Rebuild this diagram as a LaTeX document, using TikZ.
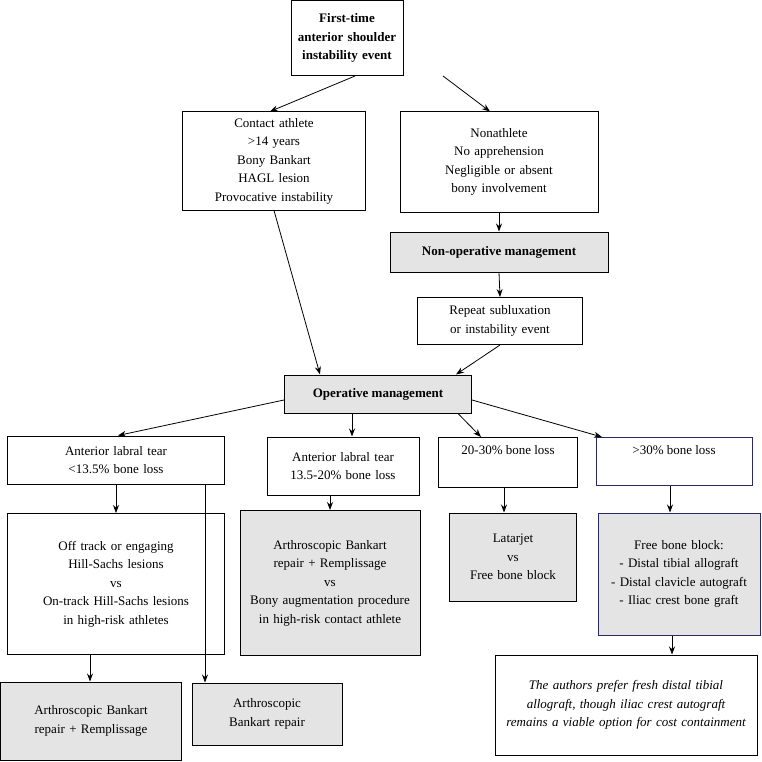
\documentclass[tikz,border=0pt]{standalone}
\usepackage{fontspec}
\setmainfont{Liberation Serif}
\usetikzlibrary{arrows.meta}
\definecolor{boxgray}{RGB}{228,228,228}
\definecolor{navyedge}{RGB}{40,40,100}
\hyphenpenalty=10000
\tikzset{
  box/.style={draw,line width=1pt,align=center,inner sep=2pt,font=\fontsize{13}{18.5}\selectfont},
  grey/.style={box,fill=boxgray},
  conn/.style={-{Stealth[length=8pt,width=6pt]},line width=0.8pt}
}
\begin{document}
\begin{tikzpicture}[x=1pt,y=-1pt]
  \useasboundingbox (0,0) rectangle (762,762);

  \node[box,font=\fontsize{13}{18.5}\selectfont\bfseries,minimum width=110,minimum height=75,text width=108] (first) at (347,38) {First-time anterior shoulder instability event};
  \node[box,minimum width=183,minimum height=98,text width=175] (contact) at (274,161) {Contact athlete\\>14 years\\Bony Bankart\\HAGL lesion\\Provocative instability};
  \node[box,minimum width=198,minimum height=100,text width=190] (non) at (499,162) {Nonathlete\\No apprehension\\Negligible or absent bony involvement};
  \node[grey,font=\fontsize{13}{18.5}\selectfont\bfseries,minimum width=218,minimum height=40] (nonop) at (499,252) {Non-operative management};
  \node[box,minimum width=165,minimum height=47,text width=160] (repeat) at (500,321) {Repeat subluxation or instability event};
  \node[grey,font=\fontsize{13}{18.5}\selectfont\bfseries,minimum width=187,minimum height=38] (oper) at (378,394) {Operative management};

  \node[box,minimum width=217,minimum height=48,text width=200] (low) at (116,460) {Anterior labral tear\\<13.5\% bone loss};
  \node[box,minimum width=152,minimum height=58,text width=145] (mid) at (343,466) {Anterior labral tear\\13.5-20\% bone loss};
  \node[box,anchor=north,minimum width=139,minimum height=50,text height=11,text depth=27] (twenty) at (508,437) {20-30\% bone loss};
  \node[box,draw=navyedge,anchor=north,minimum width=156,minimum height=48,text height=11,text depth=25] (thirty) at (674,437) {>30\% bone loss};

  \node[box,minimum width=217,minimum height=141,text width=205] (off) at (116,584) {Off track or engaging Hill-Sachs lesions\\vs\\On-track Hill-Sachs lesions in high-risk athletes};
  \node[grey,minimum width=180,minimum height=145,text width=174] (remp) at (330,583) {Arthroscopic Bankart repair + Remplissage\\vs\\Bony augmentation procedure in high-risk contact athlete};
  \node[grey,minimum width=127,minimum height=88,text width=120] (lat) at (513,557) {Latarjet\\vs\\Free bone block};
  \node[grey,draw=navyedge,minimum width=162,minimum height=122,text width=155] (free) at (679,574) {Free bone block:\\- Distal tibial allograft\\- Distal clavicle autograft\\- Iliac crest bone graft};

  \node[box,minimum width=262,minimum height=100,text width=256,font=\fontsize{13}{18.5}\selectfont\itshape] (pref) at (626,705) {The authors prefer fresh distal tibial allograft, though iliac crest autograft remains a viable option for cost containment};
  \node[grey,minimum width=181,minimum height=78,text width=174] (bankrem) at (91,721) {Arthroscopic Bankart repair + Remplissage};
  \node[grey,minimum width=150,minimum height=62,text width=144] (bank) at (267,714) {Arthroscopic Bankart repair};

  % connectors
  \draw[conn] (first.south -| 355,0) -- (contact.north -| 270,0);
  \draw[conn] (first.south -| 443,0) -- (non.north -| 490,0);
  \draw[conn] (non.south) -- (nonop.north);
  \draw[conn] (nonop.south) -- (repeat.north);
  \draw[conn] (contact.south) -- (oper.north -| 320,0);
  \draw[conn] (repeat.south) -- (oper.north -| 456,0);
  \draw[conn] (oper.west |- 0,400) -- (low.north -| 118,0);
  \draw[conn] (oper.south -| 352,0) -- (mid.north -| 352,0);
  \draw[conn] (oper.south -| 458,0) -- (twenty.north -| 481,0);
  \draw[conn] (oper.east |- 0,400) -- (thirty.north -| 602,0);
  \draw[conn] (low.south) -- (off.north);
  \draw[conn] (mid.south -| 330,0) -- (remp.north -| 330,0);
  \draw[conn] (twenty.south -| 504,0) -- (lat.north -| 504,0);
  \draw[conn] (thirty.south -| 670,0) -- (free.north -| 670,0);
  \draw[conn] (free.south -| 672,0) -- (pref.north -| 672,0);
  \draw[conn] (off.south -| 90,0) -- (bankrem.north -| 90,0);
  \draw[conn] (low.south -| 205,0) -- (bank.north -| 205,0);
\end{tikzpicture}
\end{document}
